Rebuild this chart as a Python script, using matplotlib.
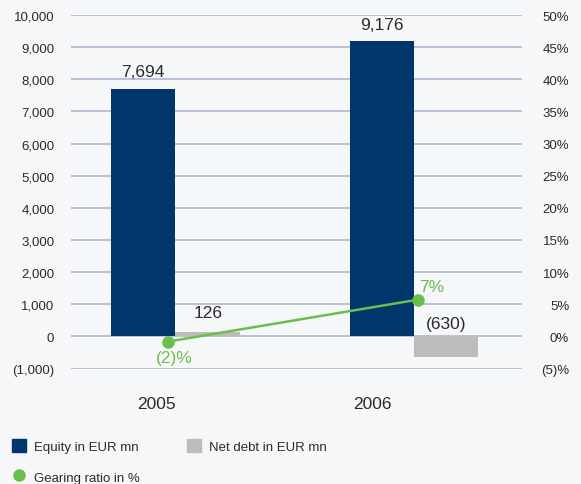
#!/usr/bin/env python3
"""plot.py: equity, net debt and gearing ratio, 2005-2006."""

import matplotlib
matplotlib.use('Agg')
import matplotlib.pyplot as plt
from matplotlib.patches import Patch
from matplotlib.lines import Line2D

years = ['2005', '2006']
equity = [7694, 9176]
net_debt = [126, -630]
equity_labels = ['7,694', '9,176']
debt_labels = ['126', '(630)']
gearing = [-0.8, 5.7]          # where the dots sit on the % axis
gearing_labels = ['(2)%', '7%']

left_ticks = list(range(-1000, 10001, 1000))
left_ticklabels = ['(1,000)', '0'] + ['{:,}'.format(v) for v in left_ticks[2:]]
right_ticks = list(range(-5, 51, 5))
right_ticklabels = ['(5)%'] + ['%d%%' % v for v in right_ticks[1:]]

NAVY = '#00366b'
GREY = '#bcbcbc'
GREEN = '#6abf4b'
GRID = '#b4bdd5'
BG = '#f6f7f9'
TXT = '#2b2b2b'

plt.rcParams['font.family'] = ['Liberation Sans', 'DejaVu Sans']


def create_figure():
    fig = plt.figure(figsize=(5.81, 4.85), dpi=100, facecolor=BG)
    ax = fig.add_axes([71 / 581, 1 - 369.5 / 485, 451 / 581, 353.5 / 485])
    ax.set_facecolor(BG)
    ax2 = ax.twinx()

    x = list(range(len(years)))
    w = 0.27
    xe = [i - w / 2 for i in x]
    xd = [i + w / 2 for i in x]
    ax.bar(xe, equity, width=w, color=NAVY, zorder=2)
    ax.bar(xd, net_debt, width=w, color=GREY, zorder=2)

    for xi, v, lab in zip(xe, equity, equity_labels):
        ax.annotate(lab, (xi, v), xytext=(0, 7), textcoords='offset points',
                    ha='center', va='bottom', fontsize=12.5, color=TXT)
    for xi, v, lab in zip(xd, net_debt, debt_labels):
        ax.annotate(lab, (xi, max(v, 0)), xytext=(0, 9 if v > 0 else 4),
                    textcoords='offset points', ha='center', va='bottom',
                    fontsize=12.5, color=TXT)

    ax.set_xlim(-0.438, 1.453)
    ax.set_ylim(-1000, 10000)
    ax.set_yticks(left_ticks)
    ax.set_yticklabels(left_ticklabels)
    ax.yaxis.grid(True, color=GRID, linewidth=1.3, zorder=0)
    ax.set_axisbelow(True)
    ax.tick_params(axis='y', length=0, pad=12, labelsize=9.5, labelcolor=TXT)
    ax.set_xticks([-0.078, 0.824])
    ax.set_xticklabels(years)
    ax.tick_params(axis='x', length=0, pad=20, labelsize=12.5, labelcolor=TXT)

    ax2.set_ylim(-5, 50)
    ax2.set_yticks(right_ticks)
    ax2.set_yticklabels(right_ticklabels)
    ax2.tick_params(axis='y', length=0, pad=34, labelsize=9.5, labelcolor=TXT)
    for t in ax2.get_yticklabels():
        t.set_horizontalalignment('right')
    for a in (ax, ax2):
        for s in a.spines.values():
            s.set_visible(False)

    gx = [x[0] - 0.03, x[1] + 0.015]
    ax2.plot(gx, gearing, color=GREEN, linewidth=1.8, marker='o',
             markersize=8, zorder=3)
    ax2.annotate(gearing_labels[0], (gx[0], gearing[0]), xytext=(4, -6),
                 textcoords='offset points', ha='center', va='top',
                 fontsize=12.5, color=GREEN)
    ax2.annotate(gearing_labels[1], (gx[1], gearing[1]), xytext=(10, 4),
                 textcoords='offset points', ha='center', va='bottom',
                 fontsize=12.5, color=GREEN)

    handles = [Patch(color=NAVY),
               Line2D([], [], color=GREEN, marker='o', linestyle='none',
                      markersize=8),
               Patch(color=GREY)]
    labels = ['Equity in EUR mn', 'Gearing ratio in %', 'Net debt in EUR mn']
    fig.legend(handles, labels, ncol=2, loc='upper left',
               bbox_to_anchor=(0 / 581, 1 - 428 / 485), frameon=False,
               fontsize=9.5, handlelength=1.05, handleheight=1.1,
               handletextpad=0.6, columnspacing=3.6, labelspacing=1.3,
               labelcolor=TXT)

    fig.savefig('out.png', dpi=100, facecolor=BG)
    plt.close(fig)


def main():
    create_figure()


if __name__ == '__main__':
    main()
